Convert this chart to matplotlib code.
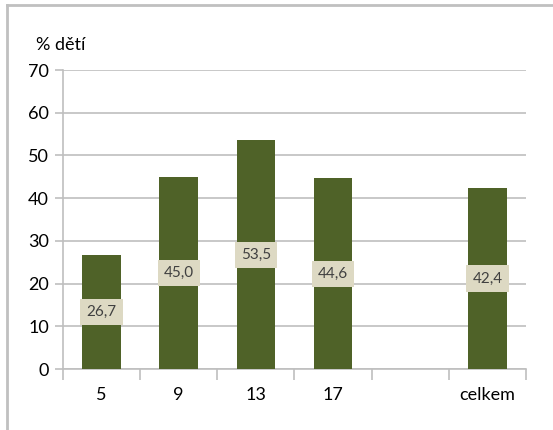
import matplotlib.pyplot as plt
from matplotlib.lines import Line2D

# age groups and share of children (%)
categories = ["5", "9", "13", "17", "", "celkem"]
values = [26.7, 45.0, 53.5, 44.6, None, 42.4]
yticks = [0, 10, 20, 30, 40, 50, 60, 70]

plt.rcParams['font.family'] = ['Lato', 'DejaVu Sans']

fig = plt.figure(figsize=(5.53, 4.30), dpi=100)
ax = fig.add_axes([63 / 553, 1 - 369 / 430, (526 - 63) / 553, (369 - 70) / 430])

pos = [i for i, v in enumerate(values) if v is not None]
vals = [v for v in values if v is not None]
bars = ax.bar(pos, vals, width=0.5, color='#4f6228', zorder=3)

for x, v in zip(pos, vals):
    ax.text(x, v / 2, f"{v:.1f}".replace('.', ','), ha='center', va='center',
            fontsize=11, color='#404040', zorder=4,
            bbox=dict(boxstyle='square,pad=0.4', fc='#ddd9c3', ec='none'))

ax.set_xlim(-0.5, len(categories) - 0.5)
ax.set_ylim(0, 70)
ax.set_yticks(yticks)
ax.set_yticklabels([str(t) for t in yticks], fontsize=13, color='#000000')
ax.yaxis.grid(True, color='#bfbfbf', linewidth=1.2, zorder=0)

ax.set_xticks(range(len(categories)))
ax.set_xticklabels(categories, fontsize=13)
ax.set_xticks([i - 0.5 for i in range(len(categories) + 1)], minor=True)
ax.tick_params(axis='x', which='major', length=0, pad=13)
ax.tick_params(axis='x', which='minor', length=8, color='#bfbfbf', width=1.2)
ax.tick_params(axis='y', length=6, color='#bfbfbf', width=1.2, pad=4)

for s in ['top', 'right']:
    ax.spines[s].set_visible(False)
for s in ['left', 'bottom']:
    ax.spines[s].set_color('#bfbfbf')
    ax.spines[s].set_linewidth(1.2)

fig.text(36 / 553, 1 - 45 / 430, "% dětí", fontsize=13, va='center', ha='left')

# outer frame (top and left edges visible)
fig.add_artist(Line2D([7 / 553, 1], [1 - 5 / 430, 1 - 5 / 430], color='#c0c0c0', lw=2,
                      transform=fig.transFigure))
fig.add_artist(Line2D([7 / 553, 7 / 553], [0, 1 - 5 / 430], color='#c0c0c0', lw=2,
                      transform=fig.transFigure))

fig.savefig('out.png', dpi=100)
